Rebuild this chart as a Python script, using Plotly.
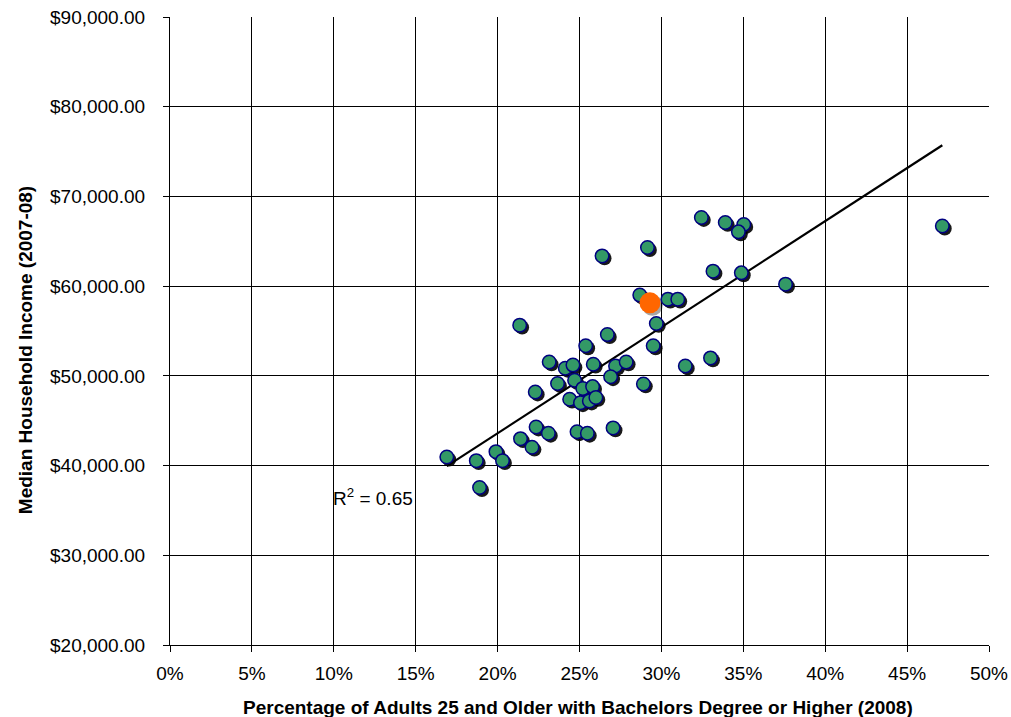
import numpy as np
import plotly.graph_objects as go

# Percentage of adults 25+ with bachelor's degree or higher (2008), %
edu_pct = [16.9, 18.7, 19.9, 20.3, 18.9, 21.4, 22.1, 22.35, 23.1, 22.3,
           21.35, 23.15, 26.7, 25.38, 24.13, 24.6, 25.84, 27.2, 27.85, 26.9,
           23.66, 24.7, 25.2, 25.8, 24.4, 25.06, 25.6, 26.0, 24.85, 25.48,
           27.05, 28.9, 32.44, 33.9, 35.03, 34.7, 26.38, 29.15, 33.15, 34.88,
           37.58, 28.68, 30.4, 31.0, 29.69, 29.5, 31.46, 33.0, 47.15]
# Median household income (2007-08), $
income = [40950, 40550, 41550, 40550, 37550, 43000, 42050, 44300, 43600, 48200,
          55650, 51550, 54600, 53350, 50850, 51200, 51300, 51100, 51550, 49900,
          49150, 49500, 48600, 48800, 47400, 47000, 47200, 47600, 43770, 43600,
          44200, 49100, 67650, 67100, 66870, 66050, 63370, 64300, 61670, 61480,
          60220, 59000, 58550, 58550, 55840, 53350, 51100, 52000, 66700]

highlight_pct = [29.3]
highlight_income = [58140]

r2_label = "R<sup>2</sup> = 0.65"
x_title = "Percentage of Adults 25 and Older with Bachelors Degree or Higher (2008)"
y_title = "Median Household Income (2007-08)"

x_range = [0, 50]
y_range = [20000, 90000]

# layout geometry
W, H = 1011, 717
ml, mr, mt, mb = 170, 22, 17, 72
pw, ph = W - ml - mr, H - mt - mb
sh_px = 2.4
dx = (x_range[1] - x_range[0]) / pw * sh_px
dy = (y_range[1] - y_range[0]) / ph * sh_px

# linear trend from data
b, a = np.polyfit(edu_pct, income, 1)
tx = np.array([min(edu_pct), max(edu_pct)])
ty = a + b * tx

FONT = "Arial, 'Liberation Sans', sans-serif"

fig = go.Figure()
# shadows (base axes, shifted ranges -> drawn first, underneath)
fig.add_trace(go.Scatter(x=edu_pct, y=income, mode="markers", xaxis="x", yaxis="y",
                         marker=dict(size=14, color="rgba(0,0,0,0.9)", line=dict(width=0)),
                         hoverinfo="skip", cliponaxis=False))
fig.add_trace(go.Scatter(x=highlight_pct, y=highlight_income, mode="markers", xaxis="x", yaxis="y",
                         marker=dict(size=21, color="rgba(0,0,0,0.35)", line=dict(width=0)),
                         hoverinfo="skip", cliponaxis=False))
# trendline
fig.add_trace(go.Scatter(x=tx, y=ty, mode="lines", xaxis="x2", yaxis="y2",
                         line=dict(color="black", width=2.2), hoverinfo="skip"))
# points
fig.add_trace(go.Scatter(x=edu_pct, y=income, mode="markers", xaxis="x2", yaxis="y2",
                         marker=dict(size=13.5, color="#339966",
                                     line=dict(color="#000080", width=1.5)),
                         cliponaxis=False))
fig.add_trace(go.Scatter(x=highlight_pct, y=highlight_income, mode="markers", xaxis="x2", yaxis="y2",
                         marker=dict(size=21, color="#FF6600", line=dict(width=0)),
                         cliponaxis=False))

axis_common = dict(showgrid=True, gridcolor="black", gridwidth=1, showline=True,
                   linecolor="black", linewidth=1.2, ticks="outside", ticklen=6,
                   tickcolor="black", zeroline=False, automargin=False,
                   tickfont=dict(family=FONT, size=19, color="black"))

fig.update_layout(
    width=W, height=H,
    margin=dict(l=ml, r=mr, t=mt, b=mb, autoexpand=False),
    paper_bgcolor="white", plot_bgcolor="white",
    showlegend=False,
    xaxis=dict(range=[x_range[0] - dx, x_range[1] - dx], visible=False, automargin=False),
    yaxis=dict(range=[y_range[0] + dy, y_range[1] + dy], visible=False, automargin=False),
    xaxis2=dict(range=x_range, dtick=5, ticksuffix="%", ticklabelstandoff=5,
                overlaying="x", side="bottom", anchor="y2", **axis_common),
    yaxis2=dict(range=y_range, dtick=10000, tickformat="$,.2f", ticklabelstandoff=14,
                overlaying="y", side="left", anchor="x2", **axis_common),
    annotations=[
        dict(text=r2_label, x=9.85, y=36490, xref="x2", yref="y2", xanchor="left", yanchor="middle",
             showarrow=False, font=dict(family=FONT, size=19, color="black")),
        dict(text="<b>" + x_title + "</b>", x=0.498, y=0, xref="paper", yref="paper",
             xanchor="center", yanchor="middle", yshift=-62, showarrow=False,
             font=dict(family=FONT, size=19, color="black")),
        dict(text="<b>" + y_title + "</b>", x=0, y=0.4695, xref="paper", yref="paper",
             xanchor="center", yanchor="middle", xshift=-145, textangle=-90, showarrow=False,
             font=dict(family=FONT, size=19, color="black")),
    ],
)

fig.write_html("out.html", config={"displayModeBar": False},
               post_script="document.body.style.margin='0';document.body.style.overflow='hidden';")
